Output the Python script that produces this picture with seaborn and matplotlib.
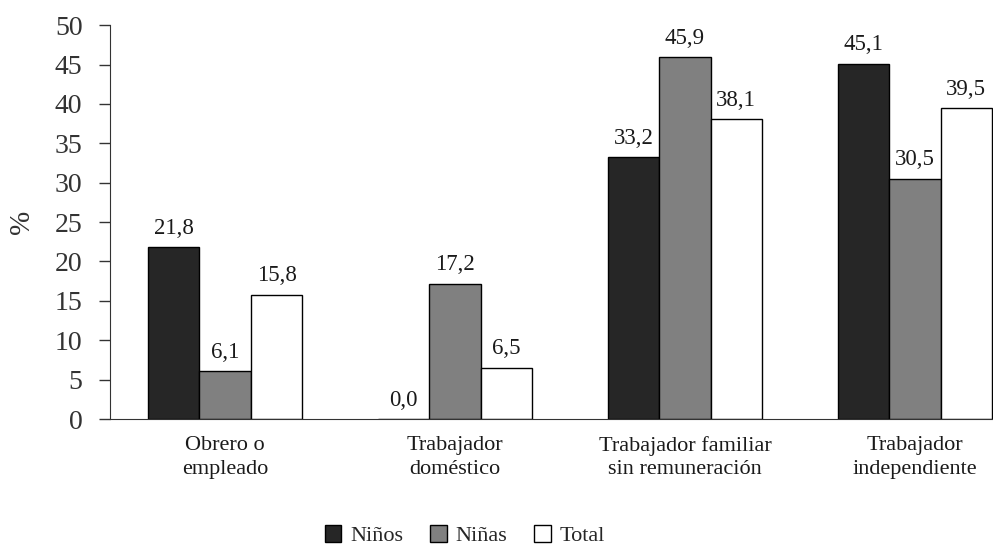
import pandas as pd
import seaborn as sns
from matplotlib import pyplot as plt
from matplotlib.patches import Patch

categories = ['Obrero o\nempleado', 'Trabajador\ndoméstico',
              'Trabajador familiar\nsin remuneración', 'Trabajador\nindependiente']
series = ['Niños', 'Niñas', 'Total']
ninos = [21.8, 0.0, 33.2, 45.1]
ninas = [6.1, 17.2, 45.9, 30.5]
total = [15.8, 6.5, 38.1, 39.5]
colors = ['#262626', '#808080', '#ffffff']

df = pd.DataFrame({'cat': categories * 3,
                   'grupo': ['Niños'] * 4 + ['Niñas'] * 4 + ['Total'] * 4,
                   'valor': ninos + ninas + total})

sns.set_style('ticks')
plt.rcParams['font.family'] = ['Liberation Serif', 'DejaVu Serif']

fig = plt.figure(figsize=(9.93, 5.47), dpi=100)
ax = fig.add_axes([0.111, 0.234, 0.889, 0.72])

sns.barplot(ax=ax, data=df, x='cat', y='valor', hue='grupo', hue_order=series,
            palette=colors, edgecolor='black', linewidth=1, width=0.67,
            errorbar=None, legend=False)

# value labels with decimal comma
for cont in ax.containers:
    ax.bar_label(cont, labels=[f'{v:.1f}'.replace('.', ',') for v in cont.datavalues],
                 padding=6, fontsize=16.5, color='#1a1a1a')

ax.set_xlim(-0.5, 3.34)
ax.set_ylim(0, 50)
ax.set_yticks(range(0, 51, 5))
ax.tick_params(axis='y', labelsize=20, length=8, width=1, pad=12, colors='#333333')
ax.tick_params(axis='x', labelsize=16, length=0, pad=12, colors='#1a1a1a')
for lbl in ax.get_xticklabels():
    lbl.set_linespacing(1.35)
ax.set_xlabel('')
ax.set_ylabel('%', fontsize=21, color='#333333', labelpad=14)
sns.despine(ax=ax, right=True, top=True)
ax.spines['left'].set_color('#333333')
ax.spines['bottom'].set_color('#333333')

handles = [Patch(facecolor=c, edgecolor='black', label=s) for c, s in zip(colors, series)]
fig.legend(handles=handles, loc='lower center', bbox_to_anchor=(0.468, -0.035), ncol=3,
           frameon=False, fontsize=16, handlelength=0.75, handleheight=0.75,
           columnspacing=1.2, handletextpad=0.4)

plt.savefig('out.png', dpi=100)
